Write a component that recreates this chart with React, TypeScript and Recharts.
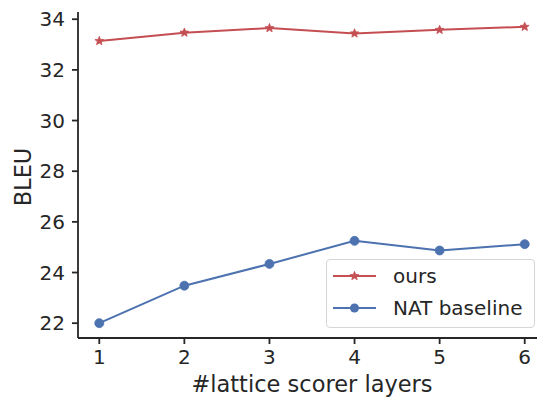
import { LineChart, Line, XAxis, YAxis, Legend } from "recharts";

const layers = [1, 2, 3, 4, 5, 6];
const oursBleu = [33.14, 33.47, 33.65, 33.44, 33.58, 33.7];
const natBleu = [22.0, 23.48, 24.34, 25.25, 24.87, 25.12];
const yTicks = [22, 24, 26, 28, 30, 32, 34];

const RED = "#C44E52";
const BLUE = "#4C72B0";
const INK = "#262626";

const data = layers.map((l, i) => ({ layers: l, ours: oursBleu[i], nat: natBleu[i] }));

function StarDot(props: any) {
  const { cx, cy } = props;
  if (cx == null || cy == null) return null;
  const pts: string[] = [];
  for (let k = 0; k < 10; k++) {
    const r = k % 2 === 0 ? 4.6 : 2;
    const a = -Math.PI / 2 + (k * Math.PI) / 5;
    pts.push(`${cx + r * Math.cos(a)},${cy + r * Math.sin(a)}`);
  }
  return <polygon key={`s-${cx}`} points={pts.join(" ")} fill={RED} stroke={RED} strokeWidth={0.8} />;
}

function CircleDot(props: any) {
  const { cx, cy } = props;
  if (cx == null || cy == null) return null;
  return <circle key={`c-${cx}`} cx={cx} cy={cy} r={4.5} fill={BLUE} stroke={BLUE} strokeWidth={0.8} />;
}

function LegendBox() {
  const rows = [
    { name: "ours", color: RED, star: true },
    { name: "NAT baseline", color: BLUE, star: false },
  ];
  return (
    <div
      style={{
        border: "1px solid #d6d6d6",
        borderRadius: 4,
        background: "rgba(255,255,255,0.8)",
        width: 207,
        height: 67,
        fontSize: 20,
        color: INK,
      }}
    >
      {rows.map((r) => (
        <div key={r.name} style={{ display: "flex", alignItems: "center", height: 32 }}>
          <svg width={43} height={12} style={{ marginLeft: 6 }}>
            <line x1={0} y1={6} x2={43} y2={6} stroke={r.color} strokeWidth={2} />
            {r.star ? (
              <StarDot cx={21.5} cy={6} />
            ) : (
              <circle cx={21.5} cy={6} r={4.5} fill={r.color} />
            )}
          </svg>
          <span style={{ marginLeft: 17, lineHeight: "32px" }}>{r.name}</span>
        </div>
      ))}
    </div>
  );
}

export default function App() {
  return (
    <div
      style={{
        position: "absolute",
        left: 0,
        top: 0,
        width: 537,
        height: 397,
        overflow: "hidden",
        background: "white",
        fontFamily: "DejaVu Sans",
      }}
    >
      <LineChart width={560} height={397} data={data} margin={{ top: 12, right: 14, left: 0, bottom: 0 }}>
        <XAxis
          dataKey="layers"
          type="number"
          domain={[0.75, 6.25]}
          ticks={layers}
          height={59}
          tickSize={6}
          tickMargin={6}
          tick={{ fontSize: 20, fill: INK }}
          axisLine={{ stroke: INK, strokeWidth: 1.8 }}
          tickLine={{ stroke: INK, strokeWidth: 1.8 }}
          label={{ value: "#lattice scorer layers", position: "insideBottom", offset: 5, fontSize: 22.5, fill: INK }}
        />
        <XAxis
          xAxisId="top"
          orientation="top"
          dataKey="layers"
          type="number"
          domain={[0.75, 6.25]}
          height={0}
          tick={false}
          tickLine={false}
          axisLine={{ stroke: INK, strokeWidth: 1.8 }}
        />
        <YAxis
          type="number"
          domain={[21.415, 34.285]}
          ticks={yTicks}
          width={78}
          tickSize={6}
          tickMargin={7}
          tick={{ fontSize: 20, fill: INK }}
          axisLine={{ stroke: INK, strokeWidth: 1.8 }}
          tickLine={{ stroke: INK, strokeWidth: 1.8 }}
          label={{
            value: "BLEU",
            content: (p: any) => {
              const vb = p.viewBox || {};
              const cx = 23;
              const cy = (vb.y ?? 12) + (vb.height ?? 326) / 2 + 2;
              return (
                <text
                  x={cx}
                  y={cy}
                  transform={`rotate(-90 ${cx} ${cy})`}
                  textAnchor="middle"
                  dominantBaseline="central"
                  fontSize={22.5}
                  fill={INK}
                >
                  BLEU
                </text>
              );
            },
          }}
        />
        <Line
          dataKey="ours"
          name="ours"
          stroke={RED}
          strokeWidth={2}
          dot={<StarDot />}
          activeDot={false}
          isAnimationActive={false}
        />
        <Line
          dataKey="nat"
          name="NAT baseline"
          stroke={BLUE}
          strokeWidth={2}
          dot={<CircleDot />}
          activeDot={false}
          isAnimationActive={false}
        />
        <Legend
          layout="horizontal"
          verticalAlign="middle"
          content={() => <LegendBox />}
          wrapperStyle={{ left: 326, top: 259, width: 209, height: 69 }}
        />
      </LineChart>
    </div>
  );
}
